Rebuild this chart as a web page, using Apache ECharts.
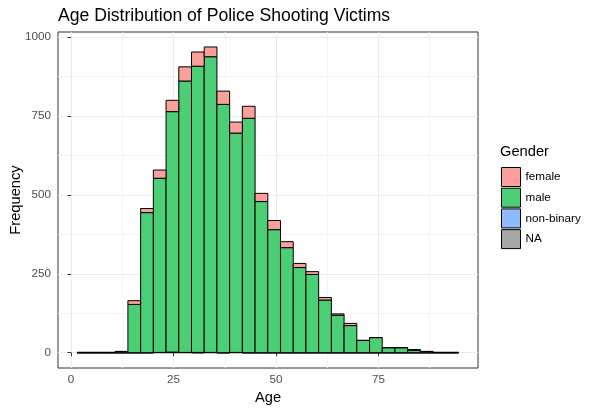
<!DOCTYPE html>
<html><head><meta charset="utf-8">
<script src="https://cdn.jsdelivr.net/npm/echarts@6/dist/echarts.min.js"></script>
<style>html,body{margin:0;padding:0;background:#fff}#c{width:600px;height:413px}</style>
</head><body><div id="c"></div>
<script>
// Histogram bin edges (Age)
const binEdges = [1.45, 4.55, 7.66, 10.76, 13.86, 16.97, 20.07, 23.17, 26.28, 29.38, 32.48, 35.59, 38.69, 41.79, 44.90, 48.00, 51.10, 54.21, 57.31, 60.41, 63.52, 66.62, 69.72, 72.83, 75.93, 79.03, 82.14, 85.24, 88.34, 91.45, 94.55];
// Counts per bin for each gender
const femaleCounts = [0, 0, 0, 0, 12, 13, 26, 36, 45, 45, 31, 42, 35, 38, 26, 29, 19, 13, 9, 8, 4, 7, 0, 0, 0, 0, 3, 0, 0, 0];
const maleCounts = [1, 1, 1, 4, 153, 444, 552, 762, 860, 907, 937, 787, 695, 743, 479, 390, 333, 270, 248, 167, 119, 86, 39, 48, 16, 16, 7, 4, 1, 1];
const nonBinaryCounts = [0, 0, 0, 0, 0, 0, 0, 1, 0, 1, 0, 0, 0, 0, 0, 0, 0, 0, 0, 0, 0, 0, 0, 0, 0, 0, 0, 0, 0, 0];
const naCounts = [0, 0, 0, 0, 0, 0, 1, 1, 1, 0, 1, 0, 1, 0, 0, 0, 0, 0, 0, 0, 0, 0, 0, 0, 0, 0, 0, 0, 0, 0];
const genders = ['female', 'male', 'non-binary', 'NA'];
const xTicks = [0, 25, 50, 75];
const xMinorTicks = [12.5, 37.5, 62.5, 87.5];
const yTicks = [0, 250, 500, 750, 1000];
const yMinorTicks = [125, 375, 625, 875];

const colors = {'female': '#FA9F99', 'male': '#4CCF74', 'non-binary': '#90BAFF', 'NA': '#A6A6A6'};
const countsBy = {'female': femaleCounts, 'male': maleCounts, 'non-binary': nonBinaryCounts, 'NA': naCounts};
// stacking order: bottom to top
const stackOrder = ['NA', 'non-binary', 'male', 'female'];

const base = new Array(maleCounts.length).fill(0);
const seriesData = {};
stackOrder.forEach(g => {
  seriesData[g] = countsBy[g].map((c, i) => {
    const y0 = base[i], y1 = base[i] + c;
    base[i] = y1;
    return [binEdges[i], binEdges[i + 1], y0, y1];
  });
});

const FONT = "'Liberation Sans', Arial, sans-serif";
const chart = echarts.init(document.getElementById('c'), null, {renderer: 'canvas'});

function makeSeries(g) {
  return {
    type: 'custom',
    name: g,
    data: seriesData[g],
    encode: {x: [0, 1], y: [2, 3]},
    itemStyle: {color: colors[g], borderColor: '#000', borderWidth: 1},
    renderItem: function (params, api) {
      const a = api.coord([api.value(0), api.value(3)]);
      const b = api.coord([api.value(1), api.value(2)]);
      return {
        type: 'rect',
        shape: {x: a[0], y: a[1], width: b[0] - a[0], height: b[1] - a[1]},
        style: {fill: colors[g], stroke: '#000', lineWidth: 1}
      };
    }
  };
}

const xMin = -3.2, xMax = 99.3, yMin = -48.4, yMax = 1016.4;
const plain = v => String(v);

chart.setOption({
  animation: false,
  textStyle: {fontFamily: FONT},
  grid: {left: 58, right: 122, top: 32, bottom: 45, containLabel: false, outerBoundsMode: 'none',
    show: true, borderColor: '#333333', borderWidth: 1, backgroundColor: '#fff'},
  graphic: [
    {type: 'text', left: 58, top: 7, style: {text: 'Age Distribution of Police Shooting Victims', fontSize: 17.6, fontFamily: FONT, fill: '#000'}},
    {type: 'text', left: 500, top: 144, style: {text: 'Gender', fontSize: 14.7, fontFamily: FONT, fill: '#000'}},
    {type: 'text', x: 16, y: 200, rotation: Math.PI / 2,
      style: {text: 'Frequency', fontSize: 14.7, fontFamily: FONT, fill: '#000', align: 'center', verticalAlign: 'middle'}}
  ],
  legend: {
    orient: 'vertical', left: 501, top: 167, padding: 0, itemGap: 0.7,
    itemWidth: 19, itemHeight: 19, icon: 'rect',
    textStyle: {fontSize: 11.7, color: '#000', fontFamily: FONT},
    data: genders.map(g => ({name: g, itemStyle: {color: colors[g], borderColor: '#000', borderWidth: 1}}))
  },
  xAxis: [
    {type: 'value', min: xMin, max: xMax, position: 'bottom',
      axisLine: {show: false},
      axisTick: {show: true, length: 3.5, lineStyle: {color: '#333'}, customValues: xTicks},
      axisLabel: {color: '#4D4D4D', fontSize: 11.7, margin: 6, customValues: xTicks, fontFamily: FONT, formatter: plain},
      splitLine: {show: true, lineStyle: {color: '#EBEBEB', width: 1}},
      name: 'Age', nameLocation: 'middle', nameGap: 22,
      nameTextStyle: {color: '#000', fontSize: 14.7, fontFamily: FONT}},
    {type: 'value', min: xMin, max: xMax, position: 'top',
      axisLine: {show: false}, axisLabel: {show: false, customValues: xMinorTicks},
      axisTick: {show: false, customValues: xMinorTicks},
      splitLine: {show: true, lineStyle: {color: '#F3F3F3', width: 1}}}
  ],
  yAxis: [
    {type: 'value', min: yMin, max: yMax, position: 'left',
      axisLine: {show: false},
      axisTick: {show: true, length: 3.5, lineStyle: {color: '#333'}, customValues: yTicks},
      axisLabel: {color: '#4D4D4D', fontSize: 11.7, margin: 7, customValues: yTicks, fontFamily: FONT, formatter: plain},
      splitLine: {show: true, lineStyle: {color: '#EBEBEB', width: 1}}},
    {type: 'value', min: yMin, max: yMax, position: 'right',
      axisLine: {show: false}, axisLabel: {show: false, customValues: yMinorTicks},
      axisTick: {show: false, customValues: yMinorTicks},
      splitLine: {show: true, lineStyle: {color: '#F3F3F3', width: 1}}}
  ],
  series: stackOrder.map(makeSeries)
});
</script></body></html>
